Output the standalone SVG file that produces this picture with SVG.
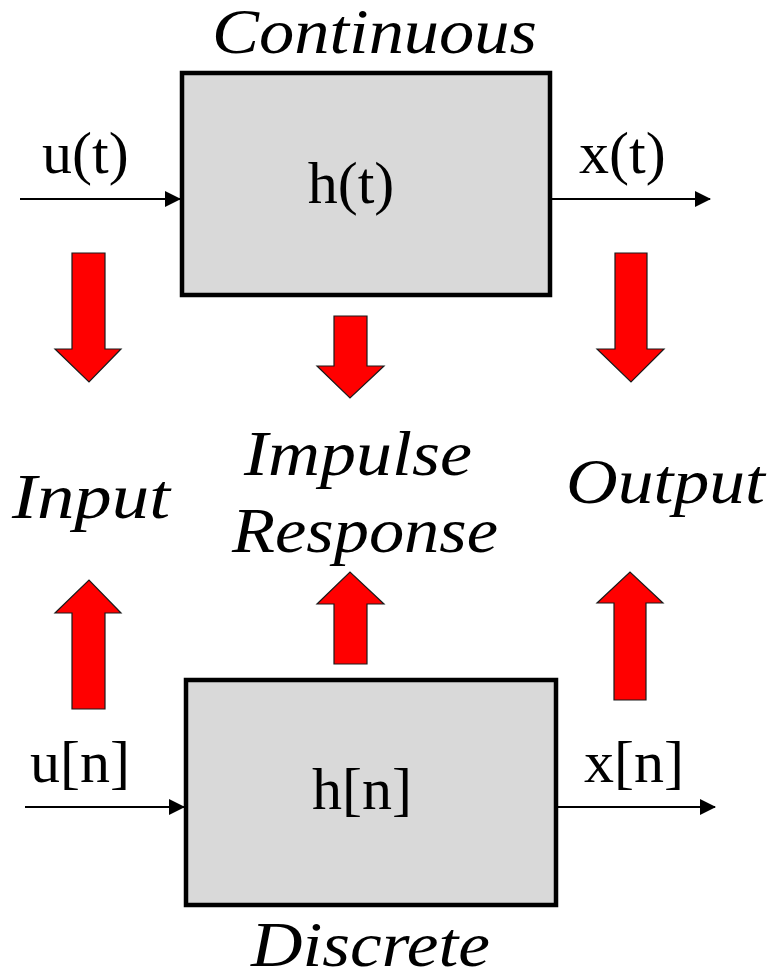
<svg xmlns="http://www.w3.org/2000/svg" width="767" height="973" viewBox="0 0 767 973">
<style>
.box{fill:#d9d9d9;stroke:#000;stroke-width:4.5}
.lbl{font-family:"Liberation Serif","Times New Roman",serif;font-size:60px;fill:#000}
.it{font-family:"Liberation Serif","Times New Roman",serif;font-style:italic;font-size:63px;fill:#000}
.conn{stroke:#000;stroke-width:2;fill:none;marker-end:url(#ah)}
.red{fill:#ff0000;stroke:#1a1a1a;stroke-width:1.2}
</style>
<defs>
<marker id="ah" markerWidth="8" markerHeight="8" refX="7.5" refY="4" orient="auto" markerUnits="strokeWidth">
<path d="M0,0 L8,4 L0,8 Z" fill="#000"/>
</marker>
</defs>
<g id="continuous-box">
<rect class="box" x="182" y="73" width="368" height="222"/>
<text class="lbl" x="351" y="203" text-anchor="middle">h(t)</text>
</g>
<g id="discrete-box">
<rect class="box" x="186" y="680" width="370" height="225"/>
<text class="lbl" x="362" y="809" text-anchor="middle">h[n]</text>
</g>
<g id="labels">
<text class="it" x="212" y="53" textLength="325" lengthAdjust="spacingAndGlyphs">Continuous</text>
<text class="it" x="251" y="966" textLength="239" lengthAdjust="spacingAndGlyphs">Discrete</text>
<text class="it" x="12" y="518" textLength="158" lengthAdjust="spacingAndGlyphs">Input</text>
<text class="it" x="244" y="475" textLength="228" lengthAdjust="spacingAndGlyphs">Impulse</text>
<text class="it" x="232" y="552" textLength="266" lengthAdjust="spacingAndGlyphs">Response</text>
<text class="it" x="566" y="503" textLength="199" lengthAdjust="spacingAndGlyphs">Output</text>
<text class="lbl" x="42" y="173">u(t)</text>
<text class="lbl" x="579" y="173">x(t)</text>
<text class="lbl" x="30" y="782">u[n]</text>
<text class="lbl" x="584" y="782">x[n]</text>
</g>
<g id="connectors">
<line class="conn" x1="20" y1="199" x2="180" y2="199"/>
<line class="conn" x1="552" y1="199" x2="710" y2="199"/>
<line class="conn" x1="25" y1="807" x2="184" y2="807"/>
<line class="conn" x1="558" y1="807" x2="715" y2="807"/>
</g>
<g id="red-arrows">
<path class="red" d="M72,253 H105 V349 H121 L89,382 L55,349 H72 Z"/>
<path class="red" d="M334,316 H367 V366 H384 L350,398 L317,366 H334 Z"/>
<path class="red" d="M615,253 H647 V349 H664 L631,382 L597,349 H615 Z"/>
<path class="red" d="M72,709 H105 V613 H121 L89,580 L55,613 H72 Z"/>
<path class="red" d="M334,664 H367 V604 H384 L350,572 L317,604 H334 Z"/>
<path class="red" d="M614,700 H646 V603 H663 L630,572 L597,603 H614 Z"/>
</g>
</svg>
